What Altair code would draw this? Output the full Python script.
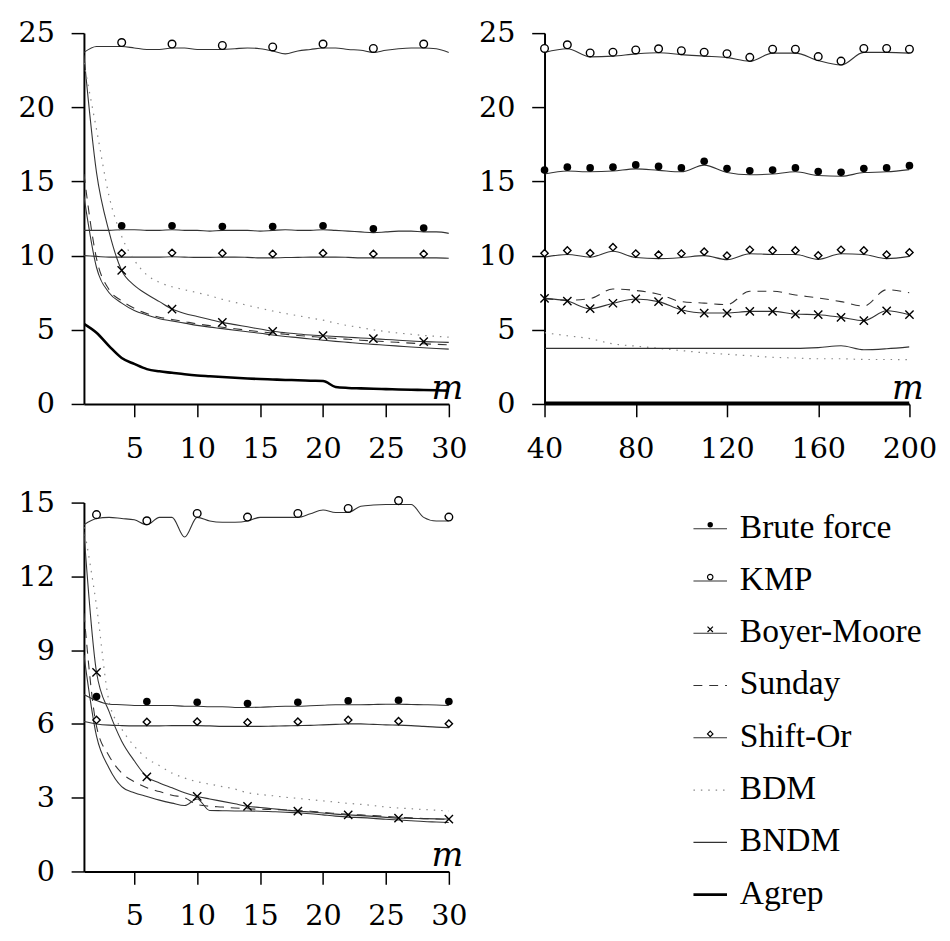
import altair as alt
import pandas as pd

FONT = "DejaVu Serif"
FONT2 = "Liberation Serif"

series_names = ["Brute force", "KMP", "Boyer-Moore", "Sunday", "Shift-Or", "BDM", "BNDM", "Agrep"]

m_small = list(range(1, 31))
m_large = [40, 50, 60, 70, 80, 90, 100, 110, 120, 130, 140, 150, 160, 170, 180, 190, 200]

# ---------- top-left panel ----------
tl_brute = [11.7, 11.7, 11.7, 11.75, 11.75, 11.7, 11.7, 11.75, 11.7, 11.7, 11.65, 11.7, 11.7, 11.7, 11.65,
            11.7, 11.75, 11.7, 11.7, 11.75, 11.7, 11.65, 11.6, 11.55, 11.6, 11.65, 11.65, 11.6, 11.6, 11.5]
tl_kmp = [23.7, 24.1, 24.1, 24.1, 24.0, 23.9, 23.9, 24.0, 24.0, 23.9, 23.9, 23.9, 23.95, 24.0, 23.95,
          23.8, 23.6, 23.8, 23.9, 24.0, 24.0, 23.9, 23.85, 23.7, 23.85, 23.95, 24.0, 24.0, 23.95, 23.7]
tl_bm = [23.5, 15.6, 11.6, 9.0, 8.0, 7.4, 6.9, 6.4, 6.1, 5.9, 5.7, 5.5, 5.35, 5.2, 5.05,
         4.9, 4.8, 4.72, 4.65, 4.6, 4.55, 4.5, 4.45, 4.4, 4.35, 4.3, 4.25, 4.2, 4.18, 4.15]
tl_sunday = [15.5, 9.8, 7.7, 6.95, 6.45, 6.1, 5.85, 5.7, 5.55, 5.4, 5.28, 5.17, 5.07, 4.97, 4.87,
             4.78, 4.7, 4.62, 4.55, 4.48, 4.42, 4.36, 4.3, 4.25, 4.2, 4.15, 4.1, 4.06, 4.02, 3.99]
tl_shiftor = [10.0, 9.95, 9.9, 9.9, 9.9, 9.9, 9.9, 9.92, 9.9, 9.88, 9.88, 9.9, 9.9, 9.88, 9.85,
              9.85, 9.87, 9.88, 9.9, 9.9, 9.9, 9.88, 9.85, 9.85, 9.85, 9.85, 9.85, 9.85, 9.85, 9.82]
tl_bdm = [23.0, 18.5, 14.0, 11.3, 9.7, 8.7, 8.2, 7.9, 7.7, 7.5, 7.3, 7.05, 6.85, 6.65, 6.45,
          6.27, 6.1, 5.95, 5.8, 5.65, 5.45, 5.28, 5.15, 5.0, 4.88, 4.78, 4.7, 4.62, 4.56, 4.5]
tl_bndm = [14.0, 9.2, 7.5, 6.8, 6.3, 6.0, 5.75, 5.6, 5.45, 5.3, 5.18, 5.08, 4.97, 4.87, 4.77,
           4.65, 4.55, 4.47, 4.38, 4.3, 4.22, 4.15, 4.08, 4.02, 3.96, 3.9, 3.84, 3.79, 3.74, 3.7]
tl_agrep = [5.4, 4.8, 3.9, 3.1, 2.7, 2.35, 2.2, 2.1, 2.0, 1.92, 1.87, 1.82, 1.77, 1.72, 1.68,
            1.65, 1.62, 1.6, 1.57, 1.55, 1.15, 1.08, 1.05, 1.02, 1.0, 0.98, 0.96, 0.94, 0.92, 0.9]
tl_marker_m = [4, 8, 12, 16, 20, 24, 28]

# ---------- top-right panel ----------
tr_brute = [15.5, 15.7, 15.65, 15.7, 15.85, 15.75, 15.65, 16.1, 15.6, 15.45, 15.5, 15.65, 15.4, 15.35, 15.6, 15.65, 15.8]
tr_kmp = [23.7, 23.95, 23.4, 23.45, 23.6, 23.68, 23.55, 23.45, 23.35, 23.1, 23.65, 23.65, 23.15, 22.85, 23.7, 23.7, 23.65]
tr_bm = [7.12, 6.94, 6.42, 6.79, 7.08, 6.9, 6.35, 6.13, 6.13, 6.24, 6.24, 6.06, 6.02, 5.84, 5.62, 6.28, 6.02]
tr_sunday = [7.1, 7.0, 7.1, 7.75, 7.65, 7.4, 6.9, 6.8, 6.7, 7.6, 7.6, 7.35, 7.15, 6.9, 6.6, 7.7, 7.5]
tr_shiftor = [9.9, 10.08, 9.9, 10.3, 9.87, 9.8, 9.87, 10.0, 9.73, 10.13, 10.08, 10.08, 9.75, 10.13, 10.08, 9.8, 9.95]
tr_bdm = [4.8, 4.6, 4.4, 4.05, 3.9, 3.75, 3.6, 3.45, 3.35, 3.25, 3.15, 3.1, 3.05, 3.05, 3.0, 3.0, 2.98]
tr_bndm = [3.75, 3.75, 3.75, 3.75, 3.75, 3.75, 3.75, 3.75, 3.75, 3.75, 3.75, 3.75, 3.8, 3.92, 3.65, 3.72, 3.85]
tr_agrep = [0.08, 0.08, 0.08, 0.08, 0.08, 0.08, 0.08, 0.08, 0.08, 0.08, 0.08, 0.08, 0.08, 0.08, 0.08, 0.08, 0.08]
tr_marker_m = m_large

# ---------- bottom-left panel ----------
bl_brute = [7.2, 6.95, 6.8, 6.78, 6.75, 6.75, 6.75, 6.75, 6.72, 6.72, 6.7, 6.7, 6.67, 6.67, 6.68,
            6.7, 6.72, 6.72, 6.74, 6.76, 6.78, 6.78, 6.78, 6.79, 6.8, 6.8, 6.79, 6.78, 6.77, 6.75]
bl_kmp = [14.1, 14.35, 14.4, 14.35, 14.3, 14.1, 14.4, 14.4, 13.6, 14.4, 14.25, 14.2, 14.2, 14.25, 14.4,
          14.4, 14.4, 14.4, 14.55, 14.7, 14.6, 14.6, 14.85, 14.9, 14.92, 14.92, 14.92, 14.4, 14.25, 14.25]
bl_bm = [13.8, 8.1, 6.5, 5.3, 4.5, 3.85, 3.6, 3.4, 3.2, 3.05, 2.95, 2.85, 2.75, 2.65, 2.6,
         2.55, 2.5, 2.45, 2.42, 2.38, 2.33, 2.3, 2.27, 2.24, 2.2, 2.17, 2.16, 2.15, 2.14, 2.13]
bl_sunday = [10.5, 5.9, 4.7, 4.0, 3.65, 3.4, 3.25, 3.1, 3.0, 2.72, 2.65, 2.62, 2.58, 2.55, 2.53,
             2.52, 2.5, 2.48, 2.45, 2.4, 2.36, 2.32, 2.3, 2.27, 2.24, 2.2, 2.18, 2.15, 2.13, 2.12]
bl_shiftor = [6.1, 6.0, 5.95, 5.93, 5.92, 5.92, 5.92, 5.93, 5.93, 5.93, 5.92, 5.9, 5.9, 5.9, 5.9,
              5.91, 5.92, 5.93, 5.94, 5.96, 5.98, 6.0, 6.0, 5.98, 5.96, 5.95, 5.93, 5.9, 5.87, 5.85]
bl_bdm = [14.0, 10.8, 6.9, 5.8, 5.1, 4.6, 4.3, 4.0, 3.8, 3.65, 3.55, 3.45, 3.35, 3.2, 3.13,
          3.08, 3.02, 2.97, 2.92, 2.87, 2.82, 2.77, 2.73, 2.68, 2.62, 2.58, 2.55, 2.52, 2.49, 2.46]
bl_bndm = [8.8, 5.5, 4.2, 3.45, 3.2, 3.05, 2.9, 2.78, 2.68, 2.95, 2.48, 2.47, 2.46, 2.46, 2.45,
           2.43, 2.41, 2.39, 2.35, 2.3, 2.25, 2.21, 2.19, 2.16, 2.12, 2.09, 2.06, 2.03, 2.01, 1.99]
bl_marker_m = [2, 6, 10, 14, 18, 22, 26, 30]

# ---------- styles ----------
X_PATH = "M -1 -1 L 1 1 M -1 1 L 1 -1"
style = {
    "Brute force": dict(color="#333", width=1.1, dash=None, shape="circle", filled=True, size=60, yoff=-4),
    "KMP": dict(color="#333", width=1.1, dash=None, shape="circle", filled=False, size=60, yoff=-4),
    "Boyer-Moore": dict(color="#333", width=1.1, dash=None, shape=X_PATH, filled=False, size=70, yoff=0),
    "Sunday": dict(color="#333", width=1.1, dash=[9, 7], shape=None),
    "Shift-Or": dict(color="#333", width=1.1, dash=None, shape="diamond", filled=False, size=55, yoff=-4),
    "BDM": dict(color="#888", width=1.2, dash=[1.5, 6], shape=None),
    "BNDM": dict(color="#333", width=1.1, dash=None, shape=None),
    "Agrep": dict(color="#000", width=2.6, dash=None, shape=None),
}


def make_df(m_values, table, marker_m):
    rows = []
    for s, vals in table.items():
        for m, v in zip(m_values, vals):
            rows.append({"series": s, "m": m, "value": v, "marker": m in marker_m})
    return pd.DataFrame(rows)


tl_df = make_df(m_small, {"Brute force": tl_brute, "KMP": tl_kmp, "Boyer-Moore": tl_bm, "Sunday": tl_sunday,
                          "Shift-Or": tl_shiftor, "BDM": tl_bdm, "BNDM": tl_bndm, "Agrep": tl_agrep}, tl_marker_m)
tr_df = make_df(m_large, {"Brute force": tr_brute, "KMP": tr_kmp, "Boyer-Moore": tr_bm, "Sunday": tr_sunday,
                          "Shift-Or": tr_shiftor, "BDM": tr_bdm, "BNDM": tr_bndm, "Agrep": tr_agrep}, tr_marker_m)
bl_df = make_df(m_small, {"Brute force": bl_brute, "KMP": bl_kmp, "Boyer-Moore": bl_bm, "Sunday": bl_sunday,
                          "Shift-Or": bl_shiftor, "BDM": bl_bdm, "BNDM": bl_bndm}, bl_marker_m)

W = 370


def axis_common():
    return dict(labelFont=FONT, labelFontSize=29, labelColor="black", tickColor="black", tickSize=13,
                tickWidth=1.5, domainColor="black", domainWidth=2, grid=False, labelFlush=False,
                labelOverlap=False)


def panel(df, xdom, xticks, ydom, yticks, h):
    xaxis = alt.Axis(values=xticks, title="m", titleFont=FONT, titleFontStyle="italic", titleFontWeight="normal",
                     titleFontSize=34, titleColor="black", titleX=W + 14, titleY=-6, titleAlign="right",
                     titleBaseline="alphabetic", labelPadding=18, **axis_common())
    yaxis = alt.Axis(values=yticks, title=None, labelPadding=17, **axis_common())
    x = alt.X("m:Q", scale=alt.Scale(domain=xdom, nice=False, zero=False), axis=xaxis)
    y = alt.Y("value:Q", scale=alt.Scale(domain=ydom, nice=False, zero=False), axis=yaxis)
    base = alt.Chart(df)
    layers = []
    present = set(df["series"])
    for s in series_names:
        if s not in present:
            continue
        st = style[s]
        kw = dict(color=st["color"], strokeWidth=st["width"], interpolate="monotone", clip=True)
        if st["dash"]:
            kw["strokeDash"] = st["dash"]
        layers.append(base.transform_filter(alt.datum.series == s).mark_line(**kw).encode(x=x, y=y))
    for s in series_names:
        if s not in present:
            continue
        st = style[s]
        if st["shape"] is None:
            continue
        layers.append(
            base.transform_filter((alt.datum.series == s) & alt.datum.marker)
            .mark_point(shape=st["shape"], filled=st["filled"], size=st["size"], color="black",
                        fill="black" if st["filled"] else "white", strokeWidth=1.4, opacity=1,
                        yOffset=st["yoff"])
            .encode(x=x, y=y)
        )
    return alt.layer(*layers).properties(width=W, height=h)


tl = panel(tl_df, [1, 30], [5, 10, 15, 20, 25, 30], [0, 25], [0, 5, 10, 15, 20, 25], 376)
tr = panel(tr_df, [40, 200], [40, 80, 120, 160, 200], [0, 25], [0, 5, 10, 15, 20, 25], 376)
bl = panel(bl_df, [1, 30], [5, 10, 15, 20, 25, 30], [0, 15], [0, 3, 6, 9, 12, 15], 374)

# ---------- legend drawn as a chart ----------
leg_df = pd.DataFrame({"series": series_names})
yleg = alt.Y("series:N", sort=series_names, scale=alt.Scale(type="point", padding=0.5), axis=None)
leg_layers = []
for s in series_names:
    st = style[s]
    kw = dict(color=st["color"], strokeWidth=st["width"])
    if st["dash"]:
        kw["strokeDash"] = st["dash"]
    leg_layers.append(alt.Chart(leg_df).transform_filter(alt.datum.series == s).mark_rule(**kw)
                      .encode(x=alt.value(151), x2=alt.value(185), y=yleg))
    if st["shape"] is not None:
        leg_layers.append(alt.Chart(leg_df).transform_filter(alt.datum.series == s)
                          .mark_point(shape=st["shape"], filled=st["filled"], size=30, color="black",
                                      fill="black" if st["filled"] else "white", strokeWidth=1.2, opacity=1,
                                      yOffset=-4)
                          .encode(x=alt.value(168), y=yleg))
leg_layers.append(alt.Chart(leg_df).mark_text(align="left", baseline="middle", font=FONT2, fontSize=34,
                                              color="black", dy=-1)
                  .encode(x=alt.value(198), y=yleg, text="series:N"))
legend = alt.layer(*leg_layers).properties(width=W, height=424)

chart = alt.concat(tl, tr, bl, legend, columns=2, bounds="flush",
                   spacing={"row": 100, "column": 97}).properties(
    padding={"left": 10, "top": 5, "right": 5, "bottom": 2}
).configure_view(stroke=None)

chart.save("out.html", embed_options={"renderer": "svg", "actions": False})
